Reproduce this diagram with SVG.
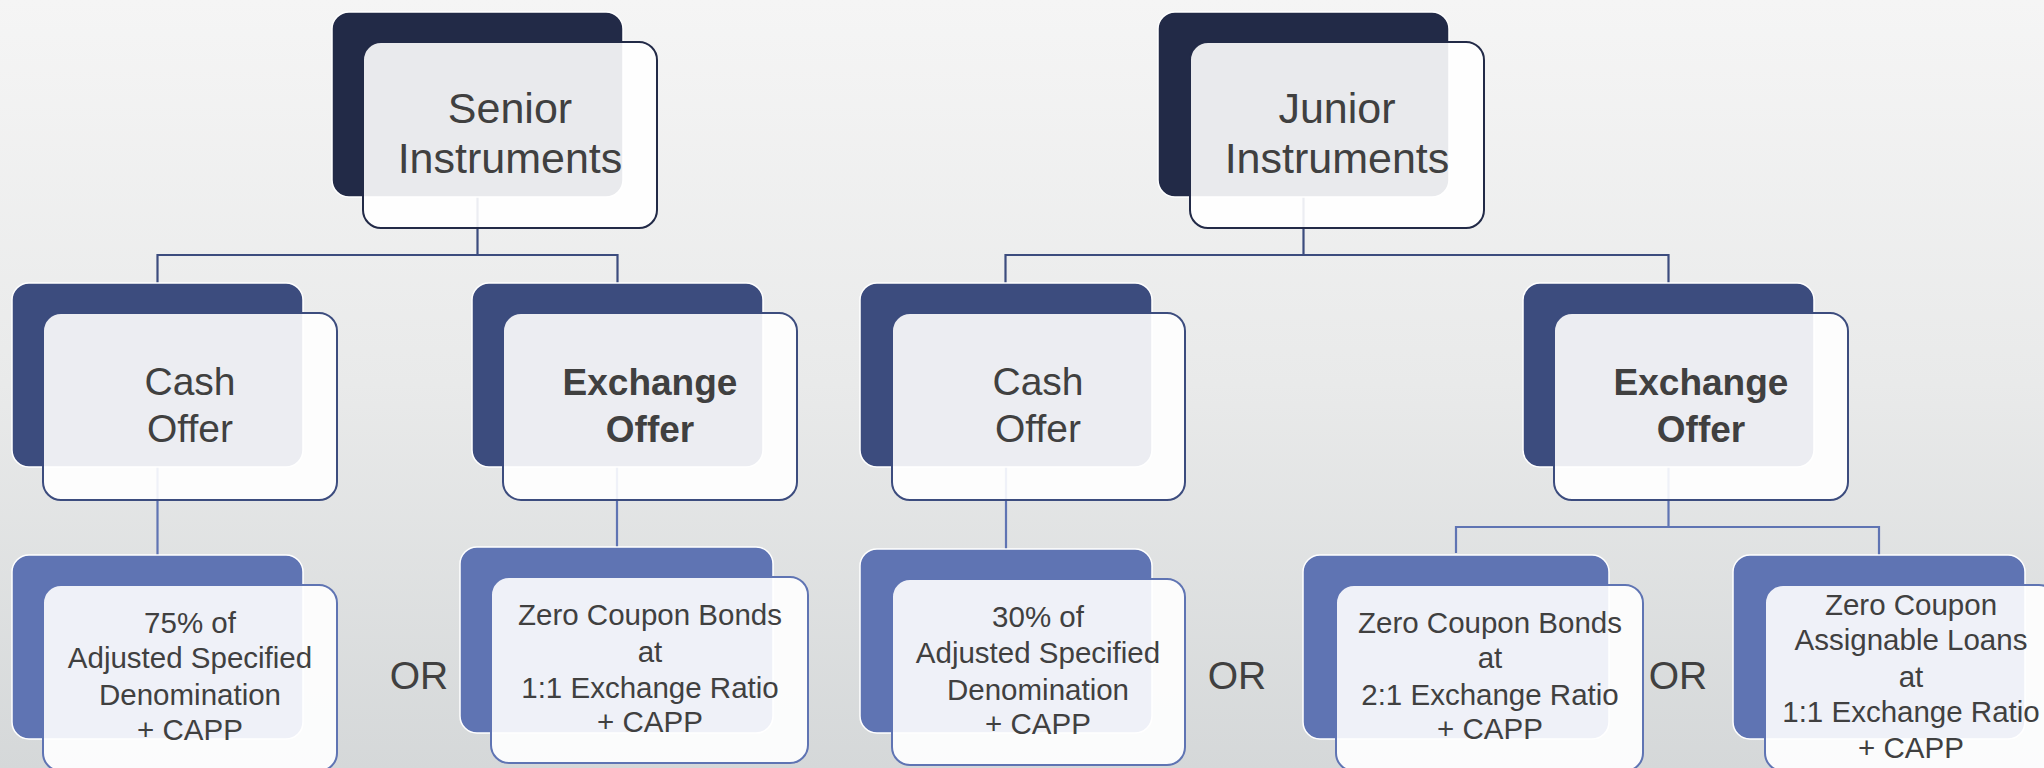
<svg xmlns="http://www.w3.org/2000/svg" width="2044" height="768" viewBox="0 0 2044 768">
<defs>
<linearGradient id="bg" x1="0" y1="0" x2="0" y2="1">
<stop offset="0" stop-color="#F5F5F5"/>
<stop offset="0.5" stop-color="#E9EAEA"/>
<stop offset="1" stop-color="#D5D8D9"/>
</linearGradient>
</defs>
<style>
.b1{fill:#222A47;stroke:#FFFFFF;stroke-width:1.5}
.b2{fill:#3C4C7E;stroke:#FFFFFF;stroke-width:1.5}
.b3{fill:#5F74B3;stroke:#FFFFFF;stroke-width:1.5}
.f1{fill:#FFFFFF;fill-opacity:0.9;stroke:#222A47;stroke-width:2}
.f2{fill:#FFFFFF;fill-opacity:0.9;stroke:#3C4C7E;stroke-width:2}
.f3{fill:#FFFFFF;fill-opacity:0.9;stroke:#5F74B3;stroke-width:2}
text{font-family:"Liberation Sans",Arial,sans-serif;fill:#404040;text-anchor:middle}
.t1{font-size:43px}
.t2{font-size:39px}
.t2b{font-size:37px;font-weight:bold}
.t3{font-size:29.5px}
.or{font-size:39px}
.c1{fill:none;stroke:#3C4C7E;stroke-width:2.2}
.c2{fill:none;stroke:#5F74B3;stroke-width:2.2}
</style>
<rect x="0" y="0" width="2044" height="768" fill="url(#bg)"/>
<g id="connectors">
<path class="c1" d="M477.5 197 V255 M157.5 283 V255 H617.5 V283"/>
<path class="c1" d="M1303.5 197 V255 M1005.5 283 V255 H1668.5 V283"/>
<path class="c2" d="M157.5 467 V555"/>
<path class="c2" d="M617 467 V547"/>
<path class="c2" d="M1006 467 V549"/>
<path class="c2" d="M1668.5 467 V527 M1456 553 V527 H1879 V555"/>
</g>
<g id="senior">
<rect class="b1" x="332" y="12" width="291" height="185" rx="17"/>
<rect class="f1" x="363" y="42" width="294" height="186" rx="18"/>
<text class="t1" x="510" y="123">Senior</text>
<text class="t1" x="510" y="173">Instruments</text>
</g>
<g id="junior">
<rect class="b1" x="1158" y="12" width="291" height="185" rx="17"/>
<rect class="f1" x="1190" y="42" width="294" height="186" rx="18"/>
<text class="t1" x="1337" y="123">Junior</text>
<text class="t1" x="1337" y="173">Instruments</text>
</g>
<g id="senior-cash">
<rect class="b2" x="12" y="283" width="291" height="184" rx="17"/>
<rect class="f2" x="43" y="313" width="294" height="187" rx="18"/>
<text class="t2" x="190" y="395">Cash</text>
<text class="t2" x="190" y="442">Offer</text>
</g>
<g id="senior-exchange">
<rect class="b2" x="472" y="283" width="291" height="184" rx="17"/>
<rect class="f2" x="503" y="313" width="294" height="187" rx="18"/>
<text class="t2b" x="650" y="395">Exchange</text>
<text class="t2b" x="650" y="442">Offer</text>
</g>
<g id="junior-cash">
<rect class="b2" x="860" y="283" width="292" height="184" rx="17"/>
<rect class="f2" x="892" y="313" width="293" height="187" rx="18"/>
<text class="t2" x="1038" y="395">Cash</text>
<text class="t2" x="1038" y="442">Offer</text>
</g>
<g id="junior-exchange">
<rect class="b2" x="1523" y="283" width="291" height="184" rx="17"/>
<rect class="f2" x="1554" y="313" width="294" height="187" rx="18"/>
<text class="t2b" x="1701" y="395">Exchange</text>
<text class="t2b" x="1701" y="442">Offer</text>
</g>
<g id="senior-cash-terms">
<rect class="b3" x="12" y="555" width="291" height="184" rx="17"/>
<rect class="f3" x="43" y="585" width="294" height="186" rx="18"/>
<text class="t3" x="190" y="633">75% of</text>
<text class="t3" x="190" y="668">Adjusted Specified</text>
<text class="t3" x="190" y="705">Denomination</text>
<text class="t3" x="190" y="740">+ CAPP</text>
</g>
<g id="senior-exchange-terms">
<rect class="b3" x="460" y="547" width="313" height="186" rx="17"/>
<rect class="f3" x="491" y="577" width="317" height="186" rx="18"/>
<text class="t3" x="650" y="625">Zero Coupon Bonds</text>
<text class="t3" x="650" y="662">at</text>
<text class="t3" x="650" y="698">1:1 Exchange Ratio</text>
<text class="t3" x="650" y="732">+ CAPP</text>
</g>
<g id="junior-cash-terms">
<rect class="b3" x="860" y="549" width="292" height="184" rx="17"/>
<rect class="f3" x="892" y="579" width="293" height="186" rx="18"/>
<text class="t3" x="1038" y="627">30% of</text>
<text class="t3" x="1038" y="663">Adjusted Specified</text>
<text class="t3" x="1038" y="700">Denomination</text>
<text class="t3" x="1038" y="734">+ CAPP</text>
</g>
<g id="junior-bonds-terms">
<rect class="b3" x="1303" y="555" width="306" height="184" rx="17"/>
<rect class="f3" x="1336" y="585" width="307" height="186" rx="18"/>
<text class="t3" x="1490" y="633">Zero Coupon Bonds</text>
<text class="t3" x="1490" y="668">at</text>
<text class="t3" x="1490" y="705">2:1 Exchange Ratio</text>
<text class="t3" x="1490" y="739">+ CAPP</text>
</g>
<g id="junior-loans-terms">
<rect class="b3" x="1733" y="555" width="292" height="184" rx="17"/>
<rect class="f3" x="1765" y="585" width="292" height="186" rx="18"/>
<text class="t3" x="1911" y="615">Zero Coupon</text>
<text class="t3" x="1911" y="650">Assignable Loans</text>
<text class="t3" x="1911" y="687">at</text>
<text class="t3" x="1911" y="722">1:1 Exchange Ratio</text>
<text class="t3" x="1911" y="758">+ CAPP</text>
</g>
<g id="or-labels">
<text class="or" x="419" y="689">OR</text>
<text class="or" x="1237" y="689">OR</text>
<text class="or" x="1678" y="689">OR</text>
</g>
</svg>
